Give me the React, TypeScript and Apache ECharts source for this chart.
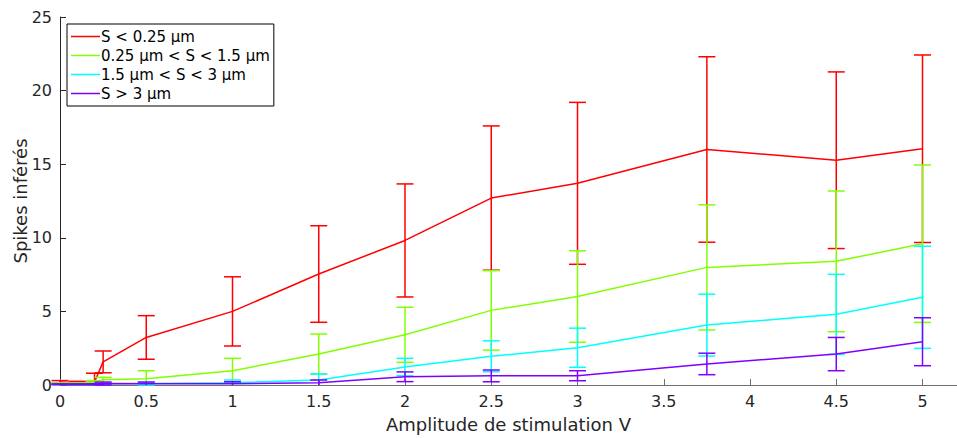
import React, { useEffect, useRef } from "react";
import * as echarts from "echarts";

const xValues = [0, 0.1, 0.2, 0.25, 0.5, 1, 1.5, 2, 2.5, 3, 3.75, 4.5, 5];

const seriesNames = [
  "S < 0.25 µm",
  "0.25 µm < S < 1.5 µm",
  "1.5 µm < S < 3 µm",
  "S > 3 µm",
];
const seriesColors = ["#ff0000", "#80ff00", "#00ffff", "#8000ff"];

const redMean = [0.2, 0.15, 0.2, 1.57, 3.23, 5.0, 7.54, 9.82, 12.7, 13.7, 16.0, 15.27, 16.05];
const redErr = [0.1, 0.1, 0.6, 0.74, 1.48, 2.35, 3.28, 3.84, 4.9, 5.5, 6.3, 6.0, 6.37];

const greenMean = [0.1, 0.1, 0.2, 0.35, 0.43, 0.97, 2.1, 3.41, 5.07, 6.01, 7.99, 8.4, 9.6];
const greenErr = [0.05, 0.05, 0.1, 0.17, 0.54, 0.84, 1.36, 1.87, 2.7, 3.11, 4.25, 4.78, 5.35];

const cyanMean = [0.05, 0.05, 0.05, 0.08, 0.1, 0.15, 0.34, 1.22, 1.95, 2.53, 4.07, 4.8, 5.96];
const cyanErr = [0.03, 0.03, 0.03, 0.05, 0.1, 0.19, 0.41, 0.59, 1.05, 1.33, 2.1, 2.72, 3.47];

const purpleMean = [0.05, 0.05, 0.05, 0.1, 0.08, 0.08, 0.15, 0.56, 0.62, 0.63, 1.43, 2.1, 2.94];
const purpleErr = [0.03, 0.03, 0.03, 0.1, 0.12, 0.14, 0.19, 0.33, 0.4, 0.34, 0.73, 1.13, 1.63];

const xTicks = [0, 0.5, 1, 1.5, 2, 2.5, 3, 3.5, 4, 4.5, 5];
const yTicks = [0, 5, 10, 15, 20, 25];

const means = [redMean, greenMean, cyanMean, purpleMean];
const errs = [redErr, greenErr, cyanErr, purpleErr];

const FONT = "DejaVu Sans";

export default function App() {
  const ref = useRef<HTMLDivElement>(null);
  useEffect(() => {
    if (!ref.current) return;
    const chart = echarts.init(ref.current, null, { renderer: "svg" });
    const series: any[] = [];
    means.forEach((m, i) => {
      const color = seriesColors[i];
      series.push({
        type: "line",
        name: seriesNames[i],
        data: xValues.map((x, k) => [x, m[k]]),
        showSymbol: false,
        symbol: "none",
        lineStyle: { color, width: 1.5 },
        itemStyle: { color },
        clip: true,
        z: 2 + i,
      });
      series.push({
        type: "custom",
        name: seriesNames[i] + " err",
        data: xValues.map((x, k) => [x, m[k] - errs[i][k], m[k] + errs[i][k]]),
        z: 2 + i,
        renderItem: (params: any, api: any) => {
          const x = api.value(0);
          const lo = api.value(1);
          const hi = api.value(2);
          const pHi = api.coord([x, hi]);
          const pLo = api.coord([x, Math.max(lo, 0)]);
          const cap = 8.5;
          const style = { stroke: color, lineWidth: 1.5 };
          const children: any[] = [
            { type: "line", shape: { x1: pHi[0], y1: pHi[1], x2: pLo[0], y2: pLo[1] }, style },
            { type: "line", shape: { x1: pHi[0] - cap, y1: pHi[1], x2: pHi[0] + cap, y2: pHi[1] }, style },
          ];
          if (lo >= 0) {
            children.push({ type: "line", shape: { x1: pLo[0] - cap, y1: pLo[1], x2: pLo[0] + cap, y2: pLo[1] }, style });
          }
          return { type: "group", children };
        },
      });
    });

    chart.setOption({
      animation: false,
      backgroundColor: "#ffffff",
      textStyle: { fontFamily: FONT },
      grid: { left: 60, right: 0, top: 17, bottom: 53, containLabel: false, outerBoundsMode: "none" },
      legend: {
        data: seriesNames,
        orient: "vertical",
        left: 67,
        top: 24,
        icon: "rect",
        itemWidth: 29,
        itemHeight: 1.5,
        itemGap: 0,
        padding: [3, 4, 3, 4],
        backgroundColor: "#ffffff",
        borderColor: "#000000",
        borderWidth: 1,
        borderRadius: 0,
        selectedMode: false,
        textStyle: { fontFamily: FONT, fontSize: 15, color: "#000000", lineHeight: 19, padding: [0, 0, 0, -4] },
      },
      xAxis: {
        type: "value",
        min: 0,
        max: 5.2,
        interval: 0.5,
        name: "Amplitude de stimulation V",
        nameLocation: "middle",
        nameGap: 30,
        nameTextStyle: { fontFamily: FONT, fontSize: 18, color: "#262626" },
        axisLine: { show: true, lineStyle: { color: "#707070", width: 1 } },
        axisTick: { show: true, inside: true, length: 6, customValues: xTicks, lineStyle: { color: "#707070" } },
        axisLabel: { customValues: xTicks, fontFamily: FONT, fontSize: 16, color: "#262626", margin: 8 },
        splitLine: { show: false },
      },
      yAxis: {
        type: "value",
        min: 0,
        max: 25,
        interval: 5,
        name: "Spikes inférés",
        nameLocation: "middle",
        nameRotate: 90,
        nameGap: 31,
        nameMoveOverlap: false,
        nameTextStyle: { fontFamily: FONT, fontSize: 18, color: "#262626" },
        axisLine: { show: true, lineStyle: { color: "#262626", width: 1 } },
        axisTick: { show: true, inside: true, length: 6, customValues: yTicks, lineStyle: { color: "#262626" } },
        axisLabel: { customValues: yTicks, fontFamily: FONT, fontSize: 16, color: "#262626", margin: 8 },
        splitLine: { show: false },
      },
      series,
    });
    return () => chart.dispose();
  }, []);
  return (
    <div
      ref={ref}
      style={{ position: "fixed", left: 0, top: 0, width: 957, height: 438 }}
    />
  );
}
